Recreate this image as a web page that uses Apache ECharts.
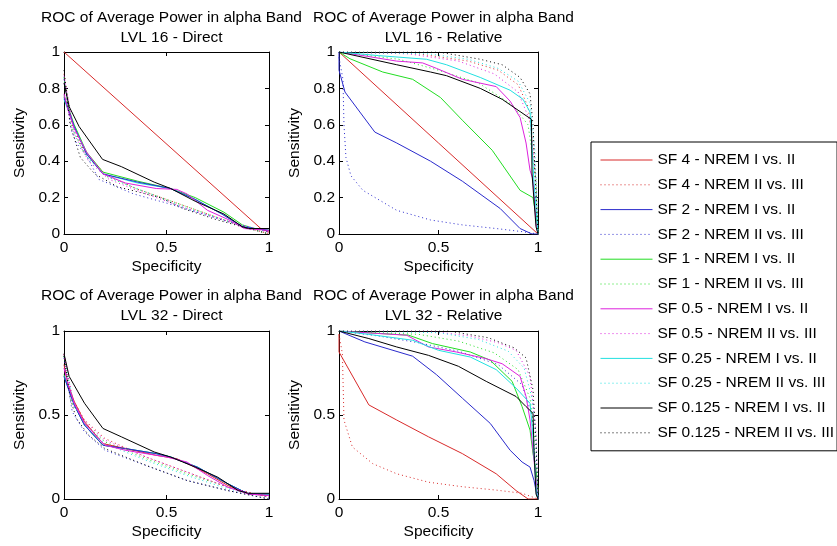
<!DOCTYPE html>
<html>
<head>
<meta charset="utf-8">
<title>ROC of Average Power in alpha Band</title>
<script src="https://cdn.jsdelivr.net/npm/echarts@6/dist/echarts.min.js"></script>
<style>
  html, body { margin: 0; padding: 0; background: #fff; }
  #main { width: 837px; height: 546px; }
</style>
</head>
<body>
<div id="main"></div>
<script>
// legend names, in plotting order
const names = [
  "SF 4 - NREM I vs. II", "SF 4 - NREM II vs. III",
  "SF 2 - NREM I vs. II", "SF 2 - NREM II vs. III",
  "SF 1 - NREM I vs. II", "SF 1 - NREM II vs. III",
  "SF 0.5 - NREM I vs. II", "SF 0.5 - NREM II vs. III",
  "SF 0.25 - NREM I vs. II", "SF 0.25 - NREM II vs. III",
  "SF 0.125 - NREM I vs. II", "SF 0.125 - NREM II vs. III"
];
const subtitles = ["LVL 16 - Direct", "LVL 16 - Relative", "LVL 32 - Direct", "LVL 32 - Relative"];
const xTicks = [0, 0.5, 1];
const yTicksTop = [0, 0.2, 0.4, 0.6, 0.8, 1];
const yTicksBottom = [0, 0.5, 1];

// [specificity, sensitivity] pairs

// LVL 16 - Direct
const d16_sf4_a = [[0,1],[0.96,0.03],[1,0.01]];
const d16_sf4_b = [[0,0.88],[0.04,0.6],[0.1,0.45],[0.2,0.33],[0.35,0.25],[0.5,0.19],[0.7,0.11],[0.85,0.05],[1,0]];
const d16_sf2_a = [[0,0.75],[0.01,0.72],[0.05,0.59],[0.11,0.44],[0.19,0.33],[0.36,0.285],[0.52,0.25],[0.64,0.19],[0.77,0.11],[0.87,0.04],[0.93,0.03],[1,0.02]];
const d16_sf2_b = [[0,0.85],[0.036,0.57],[0.06,0.5],[0.11,0.43],[0.17,0.3],[0.34,0.22],[0.5,0.17],[0.66,0.115],[0.82,0.06],[1,0.01]];
const d16_sf1_a = [[0,0.76],[0.05,0.6],[0.11,0.45],[0.19,0.34],[0.36,0.29],[0.52,0.25],[0.64,0.2],[0.78,0.12],[0.87,0.05],[0.93,0.03],[1,0.02]];
const d16_sf1_b = [[0,0.86],[0.04,0.58],[0.1,0.44],[0.2,0.32],[0.35,0.25],[0.5,0.19],[0.7,0.11],[0.85,0.05],[1,0]];
const d16_sf05_a = [[0,0.77],[0.02,0.68],[0.05,0.58],[0.11,0.45],[0.19,0.33],[0.3,0.28],[0.45,0.25],[0.55,0.245],[0.6,0.22],[0.7,0.13],[0.8,0.08],[0.88,0.03],[1,0.02]];
const d16_sf05_b = [[0,0.87],[0.05,0.55],[0.12,0.4],[0.22,0.3],[0.4,0.22],[0.6,0.14],[0.8,0.07],[1,0.01]];
const d16_sf025_a = [[0,0.74],[0.05,0.59],[0.11,0.44],[0.19,0.33],[0.36,0.28],[0.52,0.25],[0.64,0.19],[0.77,0.11],[0.87,0.04],[1,0.02]];
const d16_sf025_b = [[0,0.86],[0.05,0.56],[0.12,0.41],[0.22,0.31],[0.4,0.23],[0.6,0.14],[0.8,0.07],[1,0.01]];
const d16_sf0125_a = [[0,0.83],[0.025,0.7],[0.074,0.59],[0.188,0.41],[0.28,0.37],[0.44,0.285],[0.52,0.25],[0.64,0.18],[0.78,0.11],[0.87,0.04],[0.9,0.03],[1,0.03]];
const d16_sf0125_b = [[0,0.9],[0.03,0.6],[0.08,0.42],[0.15,0.33],[0.26,0.26],[0.47,0.2],[0.58,0.14],[0.74,0.08],[0.9,0.03],[1,0]];

// LVL 16 - Relative
const r16_sf4_a = [[0,1],[0.5,0.5],[1,0]];
const r16_sf4_b = [[0,1],[0.4,0.99],[0.65,0.95],[0.8,0.9],[0.9,0.82],[0.95,0.7],[0.98,0.45],[1,0]];
const r16_sf2_a = [[0,1],[0,0.9],[0.03,0.78],[0.18,0.56],[0.29,0.5],[0.46,0.4],[0.62,0.29],[0.81,0.14],[0.91,0.03],[0.97,0],[1,0]];
const r16_sf2_b = [[0,0.97],[0.02,0.85],[0.025,0.6],[0.035,0.42],[0.06,0.32],[0.12,0.24],[0.29,0.13],[0.46,0.077],[0.62,0.05],[0.79,0.03],[0.92,0.013],[1,0]];
const r16_sf1_a = [[0,1],[0.055,0.963],[0.22,0.89],[0.37,0.85],[0.51,0.75],[0.62,0.625],[0.77,0.46],[0.91,0.24],[0.975,0.2],[0.99,0.1],[1,0.02]];
const r16_sf1_b = [[0,1],[0.3,0.96],[0.5,0.9],[0.7,0.83],[0.87,0.71],[0.95,0.6],[0.99,0.3],[1,0]];
const r16_sf05_a = [[0,1],[0.12,0.98],[0.29,0.95],[0.42,0.94],[0.49,0.91],[0.62,0.85],[0.79,0.81],[0.86,0.73],[0.91,0.64],[0.94,0.5],[0.96,0.35],[0.975,0.3],[0.99,0.06],[1,0]];
const r16_sf05_b = [[0,1],[0.35,0.99],[0.6,0.95],[0.78,0.88],[0.9,0.78],[0.96,0.62],[0.99,0.3],[1,0]];
const r16_sf025_a = [[0,1],[0.2,0.98],[0.44,0.96],[0.54,0.93],[0.71,0.86],[0.86,0.79],[0.925,0.74],[0.96,0.67],[0.97,0.48],[0.98,0.28],[1,0]];
const r16_sf025_b = [[0,1],[0.45,0.99],[0.65,0.96],[0.8,0.91],[0.9,0.84],[0.96,0.72],[0.985,0.45],[1,0]];
const r16_sf0125_a = [[0,1],[0.29,0.93],[0.46,0.89],[0.54,0.87],[0.71,0.8],[0.82,0.74],[0.967,0.63],[0.97,0.33],[0.99,0.04],[1,0]];
const r16_sf0125_b = [[0,1],[0.5,1],[0.71,0.96],[0.82,0.93],[0.91,0.86],[0.96,0.77],[0.975,0.6],[0.985,0.33],[1,0]];

// LVL 32 - Direct
const d32_sf4_a = [[0,0.8],[0.02,0.68],[0.05,0.58],[0.1,0.46],[0.19,0.33],[0.3,0.3],[0.45,0.26],[0.55,0.24],[0.62,0.2],[0.7,0.15],[0.8,0.08],[0.9,0.03],[1,0.02]];
const d32_sf4_b = [[0,0.86],[0.04,0.6],[0.1,0.47],[0.2,0.36],[0.4,0.25],[0.6,0.16],[0.8,0.07],[1,0.01]];
const d32_sf2_a = [[0,0.73],[0.02,0.66],[0.05,0.56],[0.1,0.44],[0.19,0.32],[0.3,0.3],[0.45,0.27],[0.52,0.25],[0.65,0.19],[0.8,0.09],[0.9,0.03],[1,0.03]];
const d32_sf2_b = [[0,0.84],[0.04,0.52],[0.1,0.4],[0.2,0.29],[0.4,0.2],[0.6,0.11],[0.8,0.05],[1,0]];
const d32_sf1_a = [[0,0.74],[0.05,0.56],[0.1,0.44],[0.19,0.32],[0.3,0.3],[0.45,0.27],[0.52,0.25],[0.65,0.19],[0.8,0.09],[0.9,0.03],[1,0.03]];
const d32_sf1_b = [[0,0.85],[0.04,0.57],[0.1,0.45],[0.2,0.34],[0.4,0.24],[0.6,0.15],[0.8,0.07],[1,0.01]];
const d32_sf05_a = [[0,0.78],[0.02,0.68],[0.05,0.57],[0.1,0.45],[0.2,0.32],[0.3,0.29],[0.5,0.25],[0.6,0.22],[0.7,0.14],[0.8,0.07],[0.9,0.03],[1,0.02]];
const d32_sf05_b = [[0,0.86],[0.05,0.55],[0.12,0.44],[0.2,0.35],[0.4,0.25],[0.6,0.16],[0.8,0.07],[1,0.01]];
const d32_sf025_a = [[0,0.73],[0.05,0.56],[0.1,0.44],[0.19,0.32],[0.3,0.3],[0.45,0.27],[0.52,0.25],[0.65,0.19],[0.8,0.09],[0.9,0.03],[1,0.03]];
const d32_sf025_b = [[0,0.85],[0.05,0.55],[0.12,0.42],[0.2,0.33],[0.4,0.23],[0.6,0.14],[0.8,0.06],[1,0.01]];
const d32_sf0125_a = [[0,0.865],[0.025,0.73],[0.1,0.57],[0.19,0.42],[0.28,0.37],[0.44,0.28],[0.52,0.25],[0.64,0.19],[0.75,0.13],[0.85,0.05],[0.9,0.034],[1,0.034]];
const d32_sf0125_b = [[0,0.85],[0.03,0.6],[0.06,0.48],[0.12,0.38],[0.2,0.3],[0.4,0.2],[0.6,0.11],[0.8,0.05],[1,0]];

// LVL 32 - Relative
const r32_sf4_a = [[0,0.98],[0,0.875],[0.15,0.56],[0.29,0.47],[0.45,0.37],[0.62,0.27],[0.79,0.15],[0.89,0.05],[0.95,0],[1,0]];
const r32_sf4_b = [[0,0.98],[0.017,0.865],[0.025,0.47],[0.067,0.31],[0.17,0.21],[0.29,0.15],[0.45,0.1],[0.62,0.073],[0.79,0.053],[0.92,0.034],[1,0]];
const r32_sf2_a = [[0,1],[0.13,0.935],[0.37,0.85],[0.49,0.74],[0.62,0.6],[0.76,0.45],[0.86,0.29],[0.92,0.22],[0.96,0.19],[0.98,0.11],[0.99,0.05],[1,0]];
const r32_sf2_b = [[0,1],[0.2,0.97],[0.4,0.93],[0.6,0.88],[0.8,0.8],[0.92,0.68],[0.97,0.5],[1,0]];
const r32_sf1_a = [[0,1],[0.35,0.975],[0.47,0.925],[0.66,0.875],[0.76,0.826],[0.87,0.7],[0.92,0.55],[0.96,0.41],[0.975,0.27],[0.99,0.17],[1,0.05]];
const r32_sf1_b = [[0,1],[0.4,0.98],[0.6,0.94],[0.78,0.87],[0.9,0.77],[0.96,0.6],[0.99,0.3],[1,0]];
const r32_sf05_a = [[0,1],[0.2,0.985],[0.34,0.975],[0.45,0.905],[0.59,0.875],[0.74,0.835],[0.82,0.805],[0.91,0.73],[0.94,0.61],[0.96,0.47],[0.98,0.23],[1,0]];
const r32_sf05_b = [[0,1],[0.45,1],[0.66,0.97],[0.8,0.93],[0.89,0.885],[0.96,0.73],[0.99,0.4],[1,0]];
const r32_sf025_a = [[0,1],[0.15,0.98],[0.37,0.945],[0.5,0.885],[0.66,0.845],[0.79,0.77],[0.89,0.66],[0.96,0.57],[0.975,0.37],[0.99,0.07],[1,0]];
const r32_sf025_b = [[0,1],[0.5,0.99],[0.7,0.95],[0.85,0.88],[0.93,0.78],[0.97,0.6],[0.99,0.35],[1,0]];
const r32_sf0125_a = [[0,1],[0.15,0.955],[0.29,0.905],[0.45,0.855],[0.6,0.79],[0.74,0.7],[0.89,0.61],[0.94,0.55],[0.975,0.51],[0.98,0.29],[0.99,0.03],[1,0]];
const r32_sf0125_b = [[0,1],[0.55,1],[0.75,0.96],[0.88,0.9],[0.94,0.84],[0.975,0.65],[0.99,0.35],[1,0]];

const plots = [
  [d16_sf4_a, d16_sf4_b, d16_sf2_a, d16_sf2_b, d16_sf1_a, d16_sf1_b, d16_sf05_a, d16_sf05_b, d16_sf025_a, d16_sf025_b, d16_sf0125_a, d16_sf0125_b],
  [r16_sf4_a, r16_sf4_b, r16_sf2_a, r16_sf2_b, r16_sf1_a, r16_sf1_b, r16_sf05_a, r16_sf05_b, r16_sf025_a, r16_sf025_b, r16_sf0125_a, r16_sf0125_b],
  [d32_sf4_a, d32_sf4_b, d32_sf2_a, d32_sf2_b, d32_sf1_a, d32_sf1_b, d32_sf05_a, d32_sf05_b, d32_sf025_a, d32_sf025_b, d32_sf0125_a, d32_sf0125_b],
  [r32_sf4_a, r32_sf4_b, r32_sf2_a, r32_sf2_b, r32_sf1_a, r32_sf1_b, r32_sf05_a, r32_sf05_b, r32_sf025_a, r32_sf025_b, r32_sf0125_a, r32_sf0125_b]
];

const colors = ["#d82a2a", "#2a2acc", "#22dd22", "#dd22dd", "#22e0e0", "#000000"];
const font = "Arial, 'Liberation Sans', sans-serif";
const fs = 15.5;

// subplot boxes
const boxes = [
  { left: 64, top: 52, width: 205, height: 182 },
  { left: 339, top: 52, width: 199, height: 182 },
  { left: 64, top: 331, width: 205, height: 168 },
  { left: 339, top: 331, width: 199, height: 168 }
];
const titleTops = [3, 3, 281, 281];

const grids = [], xAxes = [], yAxes = [], titles = [], series = [];
const tick = { show: true, inside: true, length: 4, lineStyle: { color: "#000" } };
const line = { show: true, onZero: false, lineStyle: { color: "#000", width: 1 } };
const lbl = { color: "#000", fontSize: fs, fontFamily: font };

boxes.forEach(function (b, p) {
  grids.push({ left: b.left, top: b.top, width: b.width, height: b.height, containLabel: false });
  const yInt = p < 2 ? 0.2 : 0.5;
  titles.push({
    text: "ROC of Average Power in alpha Band\n" + subtitles[p],
    left: b.left + b.width / 2, top: titleTops[p], textAlign: "center",
    textStyle: { color: "#000", fontWeight: "normal", fontSize: fs, fontFamily: font, lineHeight: 20 }
  });
  xAxes.push({
    gridIndex: p, type: "value", min: 0, max: 1, interval: 0.5, position: "bottom",
    name: "Specificity", nameLocation: "middle", nameGap: 25, nameTextStyle: lbl,
    axisLine: line, axisTick: tick, splitLine: { show: false },
    axisLabel: Object.assign({ margin: 6 }, lbl)
  });
  yAxes.push({
    gridIndex: p, type: "value", min: 0, max: 1, interval: yInt, position: "left",
    name: "Sensitivity", nameLocation: "middle", nameGap: 36, nameTextStyle: lbl,
    axisLine: line, axisTick: tick, splitLine: { show: false },
    axisLabel: Object.assign({ margin: 4 }, lbl)
  });
});
// box: top and right edges with inward ticks
boxes.forEach(function (b, p) {
  const yInt = p < 2 ? 0.2 : 0.5;
  xAxes.push({
    gridIndex: p, type: "value", min: 0, max: 1, interval: 0.5, position: "top",
    axisLine: line, axisTick: tick, axisLabel: { show: false }, splitLine: { show: false }
  });
  yAxes.push({
    gridIndex: p, type: "value", min: 0, max: 1, interval: yInt, position: "right",
    axisLine: line, axisTick: tick, axisLabel: { show: false }, splitLine: { show: false }
  });
});

plots.forEach(function (curves, p) {
  // draw order: in the direct plots green and cyan sit underneath the others
  let order = [0, 1, 2, 3, 4, 5, 6, 7, 8, 9, 10, 11];
  if (p === 0 || p === 2) order = [4, 5, 8, 9, 0, 1, 2, 3, 6, 7, 10, 11];
  order.forEach(function (i) {
    const dotted = i % 2 === 1;
    const c = colors[Math.floor(i / 2)];
    series.push({
      type: "line", name: names[i], xAxisIndex: p, yAxisIndex: p,
      data: curves[i], symbol: "none", silent: true,
      lineStyle: { color: c, width: 1, type: dotted ? [1, 3] : "solid" },
      itemStyle: { color: c }
    });
  });
});

const chart = echarts.init(document.getElementById("main"));
chart.setOption({
  animation: false,
  backgroundColor: "#fff",
  title: titles,
  grid: grids,
  xAxis: xAxes,
  yAxis: yAxes,
  legend: {
    data: names, orient: "vertical", left: 591, top: 142,
    padding: [10, 3, 10, 9], itemWidth: 52, itemHeight: 16, itemGap: 8.8,
    borderColor: "#000", borderWidth: 1, backgroundColor: "#fff",
    selectedMode: false,
    itemStyle: { opacity: 0 },
    lineStyle: { width: 1 },
    textStyle: { color: "#000", fontSize: fs, fontFamily: font, lineHeight: 16 }
  },
  series: series
});
</script>
</body>
</html>
